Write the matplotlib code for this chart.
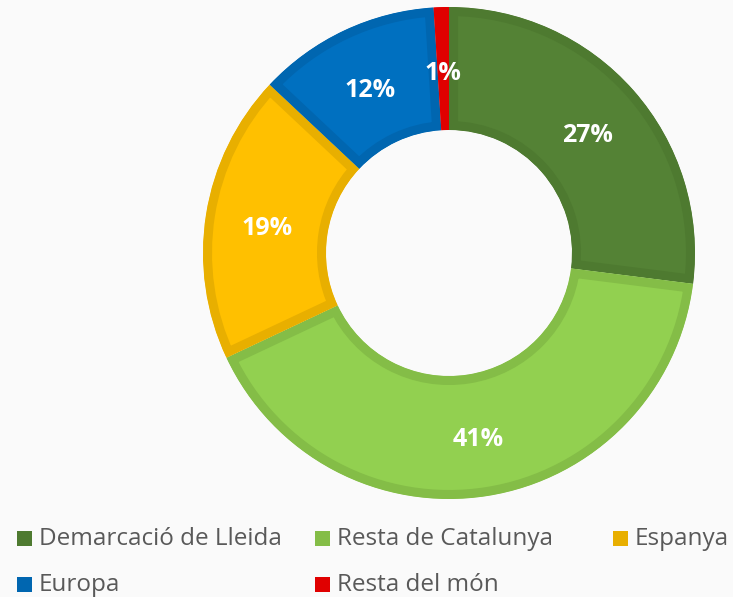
import matplotlib
matplotlib.use('Agg')
import numpy as np
import matplotlib.pyplot as plt
from matplotlib.patches import Rectangle, Wedge

# Chart data
categories = ['Demarcació de Lleida', 'Resta de Catalunya', 'Espanya', 'Europa', 'Resta del món']
shares = [27, 41, 19, 12, 1]
fill_colors = ['#548235', '#92D050', '#FFC000', '#0070C0', '#FF0000']
edge_colors = ['#4E7A30', '#84BD47', '#E8AF00', '#0066B0', '#E00000']

plt.rcParams['font.family'] = ['Open Sans', 'DejaVu Sans']

fig = plt.figure(figsize=(7.33, 5.97), dpi=100)
fig.patch.set_facecolor('#FAFAFA')

W, H = 733, 597
cx, cy, rad = 449, 253, 246
ax = fig.add_axes([(cx - rad) / W, (H - cy - rad) / H, 2 * rad / W, 2 * rad / H])
ax.set_facecolor('none')

wedges, _ = ax.pie(shares, colors=fill_colors, startangle=90, counterclock=False,
                   radius=1.0, wedgeprops=dict(width=0.5, linewidth=13))
for w, ec in zip(wedges, edge_colors):
    w.set_edgecolor(ec)
    # clip each slice to a copy of itself so only the inner half of the stroke shows
    clip = Wedge(w.center, w.r, w.theta1, w.theta2, width=w.width,
                 transform=ax.transData)
    w.set_clip_on(True)
    w.set_clip_path(clip)

# percentage labels
start = 90
for val in shares:
    mid = np.deg2rad(start - val * 3.6 / 2)
    start -= val * 3.6
    ax.text(0.75 * np.cos(mid), 0.75 * np.sin(mid) - 0.018, f'{val}%', ha='center', va='center',
            color='white', fontsize=18, fontweight='bold')

ax.set_xlim(-1, 1)
ax.set_ylim(-1, 1)
ax.set_aspect('equal')
ax.axis('off')

# legend laid out in fixed-width columns like the original
col_x = [17, 315, 613]
row_y = [539, 585]
for i, (name, ec) in enumerate(zip(categories, edge_colors)):
    r, c = divmod(i, 3)
    x0, y0 = col_x[c], row_y[r]
    fig.patches.append(Rectangle((x0 / W, (H - y0 - 7) / H), 15 / W, 15 / H,
                                 transform=fig.transFigure, facecolor=ec, edgecolor='none'))
    fig.text((x0 + 22) / W, (H - y0) / H, name, ha='left', va='center',
             fontsize=17.5, color='#595959')

fig.savefig('out.png', dpi=100, facecolor=fig.get_facecolor())
